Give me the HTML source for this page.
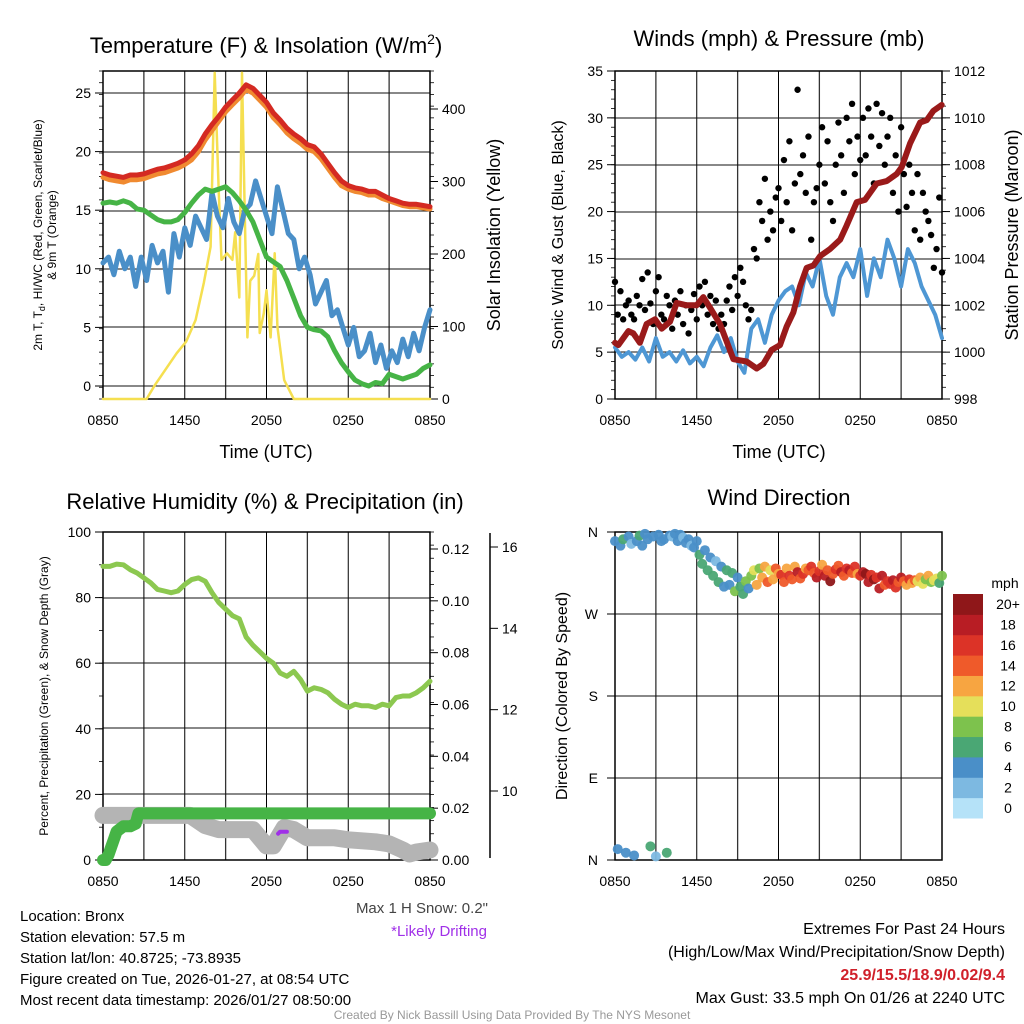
<!DOCTYPE html>
<html><head><meta charset="utf-8"><style>
body{margin:0;background:#fff;}
svg{display:block;font-family:"Liberation Sans",sans-serif;}
</style></head><body>
<svg id="s" width="1024" height="1024" viewBox="0 0 1024 1024" xmlns="http://www.w3.org/2000/svg"></svg>
<script>
// ---------- DATA ----------
const tempRed=[18.2,18.0,17.9,17.8,18.0,18.0,18.1,18.3,18.5,18.6,18.8,19.0,19.3,19.8,20.5,21.5,22.3,23.0,23.8,24.4,25.0,25.7,25.4,24.8,24.2,23.3,22.7,22.0,21.5,21.1,20.6,20.4,19.8,19.0,18.2,17.5,17.1,16.9,16.8,16.6,16.6,16.3,16.0,15.8,15.6,15.5,15.5,15.4,15.3];
const tempOrange=[17.8,17.6,17.5,17.4,17.6,17.6,17.7,17.9,18.1,18.2,18.4,18.6,18.9,19.3,20.0,21.0,21.8,22.6,23.4,24.0,24.6,25.3,25.0,24.4,23.8,22.9,22.3,21.6,21.1,20.7,20.2,20.0,19.4,18.6,17.8,17.1,16.8,16.6,16.5,16.3,16.3,16.0,15.8,15.6,15.4,15.3,15.3,15.2,15.1];
const dewGreen=[15.6,15.7,15.6,15.8,15.6,15.1,15.0,14.6,14.2,14.0,14.0,14.2,14.8,15.6,16.3,16.8,16.6,16.8,17.0,16.5,15.8,15.0,14.0,12.5,11.0,10.6,10.2,9.0,7.5,6.0,5.0,4.8,4.7,4.2,3.0,2.0,1.2,0.5,0.2,0.0,0.3,0.2,1.0,0.8,0.6,0.8,1.0,1.5,1.8];
const heatBlue=[10.5,11,9.5,11.5,10,11,8.5,11,9,12,10.5,11.5,8,13,11,13.5,12,14.5,13.5,12.5,16.5,14.5,13.5,16,14,13,15,15.5,17.5,16,14.5,13,17,15,13,12.5,10,11,9.5,7,8,9,6,6.5,5,3.5,5,2.5,3,4.5,2,3.5,1.5,3,2,4,2.5,4.5,3,5,6.5];
const insolHours=[0,3.2,3.8,5.4,6.1,6.8,7.4,7.9,8.2,8.5,8.7,9.1,9.5,9.7,10.0,10.2,10.4,10.6,10.8,11.1,11.4,11.5,11.8,12.0,12.3,12.6,12.8,13.3,14.0,24];
const insolValues=[0,0,19,63,79,109,160,210,450,284,192,201,192,230,140,450,260,85,163,170,200,91,118,150,85,201,100,26,0,0];
const windSpeed=[5.5,4.5,5.0,4.2,5.5,4.0,6.5,4.5,5.0,4.0,5.2,3.8,4.5,3.5,5.5,6.8,5.0,6.5,4.0,2.8,7.5,8.5,6.0,9.0,10.5,11.5,12.0,10.0,13.5,12.0,15,11,9,13,14.5,13,16,11,15,13,17,15,12,16,14.5,12,10.5,9,6.5];
const gustValues=[12.5,9,11.5,8.5,10,10.5,9,8.5,11,10,12.8,9.5,13.5,10.2,8,11.5,13,9,8.5,11,10,7.5,10.5,9,11.5,8,10,7,9.5,11.2,8.5,12,10,12.5,9,11,8,10.5,7.5,9,8,10.5,12,9.5,13,11,14,12.5,10,8.5,9.5,16,15,21,19,23.5,17,20,18,21.5,22.5,19,25.5,21,27.5,18,23,33,24,26,22,28,17,21,22.5,25,29,23,27.5,21,19,25,29.5,26,22,30,27.5,31.5,24,28,25.5,30,26,31,28,23,31.5,27,30.5,25,28,30,22,26,20,29,24,20.5,25,22,18,24,17,22,20,19,17.5,14,16,21.5,13.5];
const presHours=[0,0.24,0.98,1.35,1.83,2.32,2.94,3.43,4.04,4.53,5.26,5.99,6.48,6.97,7.71,8.69,9.66,10.4,10.89,11.5,12.11,12.6,13.09,13.58,14.07,14.56,15.05,15.78,16.52,17.0,17.74,18.35,18.72,19.21,19.94,20.67,21.04,21.65,22.39,22.88,23.37,23.98];
const presValues=[1000.4,1000.3,1000.9,1000.8,1000.4,1001.2,1001.4,1001.0,1001.3,1002.1,1002.0,1002.0,1002.35,1001.9,1001.2,999.7,999.6,999.3,999.5,1000.1,1000.3,1001.1,1001.7,1002.8,1003.6,1003.7,1004.1,1004.4,1004.8,1005.4,1006.4,1006.5,1006.8,1007.2,1007.3,1007.6,1007.9,1008.9,1009.8,1009.9,1010.3,1010.55];
const rhValues=[89.5,89.5,90.2,90,88.5,87.5,86,84.5,82.5,82,81.5,82,84,85.5,86,85,81.5,78.5,76.5,74.5,73.5,68,65.5,63.5,61.5,60,57,56,57.5,55,51.5,52.5,52,51,49,47.5,46.5,47.5,47,47,46.5,47.5,47,49.5,50,50,51,52.5,54.5];
const precipHours=[0,0.2,0.4,0.6,0.8,1.0,1.5,2.0,2.4,2.6,24];
const precipValues=[0,0,0.002,0.005,0.008,0.011,0.013,0.013,0.014,0.018,0.018];
const snowHours=[0,6.4,7.5,8.5,11,12,12.5,13.3,14,15,17,18,20,21,22,22.5,23,24];
const snowValues=[9.4,9.4,9.15,9.05,9.05,8.65,8.65,9.1,9.05,8.85,8.85,8.8,8.75,8.7,8.55,8.45,8.5,8.55];
const driftHours=[12.85,13.0,13.5];
const driftValues=[8.95,9.0,9.0];
const dirValues=[350,12,345,352,8,355,347,5,350,356,345,358,352,15,355,4,357,350,352,8,356,355,358,350,357,354,348,352,345,343,350,335,325,340,318,332,312,328,305,322,300,318,302,315,295,310,300,292,306,298,312,318,302,320,310,322,305,318,308,320,314,313,305,320,312,308,322,316,309,314,320,318,322,315,310,317,324,312,318,306,314,319,323,316,312,320,318,315,322,314,312,316,314,305,313,308,310,298,312,302,306,303,307,299,305,310,306,302,308,304,307,306,310,303,308,312,305,307,309,304,312];
const dirSpeeds=[4,5,4,6,5,4,3,5,4,6,4,4,5,6,4,3,4,5,4,6,4,3,4,4,5,3,4,4,3,5,4,6,7,5,6,4,6,3,7,5,4,6,5,7,8,4,7,6,8,5,9,11,12,9,13,12,14,11,13,15,12,16,14,13,17,15,12,18,14,16,13,15,17,14,19,16,13,18,15,20,14,17,15,18,14,16,19,15,17,13,16,19,20,18,17,20,16,18,19,15,17,16,18,17,14,19,15,12,16,13,15,11,13,10,9,12,8,10,11,7,9];
const xTickLabels=["0850","1450","2050","0250","0850"];
const speedColors=["#b5e2f8","#7db9e1","#4a8fc8","#4aa774","#7dc24d","#e5df5a","#f7a541","#ef5a2a","#dc3327","#b81d24","#8f1719"];
const speedLabels=["0","2","4","6","8","10","12","14","16","18","20+"];

// ---------- helpers ----------
const NS="http://www.w3.org/2000/svg", S=document.getElementById('s');
function mk(tag,attrs,parent){const e=document.createElementNS(NS,tag);for(const k in attrs)e.setAttribute(k,attrs[k]);(parent||S).appendChild(e);return e;}
function txt(x,y,s,size,anchor,extra){const e=mk('text',Object.assign({x:x,y:y,'font-size':size,'text-anchor':anchor||'middle',fill:'#000'},extra||{}));e.textContent=s;return e;}
function lin(a,b){return v=>a[1]+(v-a[0])*(b[1]-a[1])/(b[0]-a[0]);}
function poly(pts,stroke,w,name){const e=mk('polyline',{points:pts.map(p=>p[0].toFixed(1)+','+p[1].toFixed(1)).join(' '),fill:'none',stroke:stroke,'stroke-width':w,'stroke-linejoin':'round','stroke-linecap':'round'});

return e;}
function grid(L,R,T,B,ys,name){
 const g=mk('g',{});
 
 
 for(let i=0;i<=8;i++){const x=L+(R-L)*i/8;mk('line',{x1:x,x2:x,y1:T,y2:B,stroke:i%2?'#333':'#000','stroke-width':i%2?1.3:1},g);}
 ys.forEach(y=>mk('line',{x1:L,x2:R,y1:y,y2:y,stroke:'#111','stroke-width':1.1},g));
 mk('rect',{x:L,y:T,width:R-L,height:B-T,fill:'none',stroke:'#000','stroke-width':1.5},g);
 for(let i=0;i<5;i++){const x=L+(R-L)*i/4;const t=txt(x,B+26,xTickLabels[i],14);
 
 }
}
function rot(x,y,s,size,name){const t=txt(x,y,s,size,'middle',{transform:`rotate(-90 ${x} ${y})`});
 
 return t;}
function ticksY(x,vals,f,dir,fmt,size,name){vals.forEach(v=>{const y=f(v);mk('line',{x1:x,x2:x+dir*8,y1:y,y2:y,stroke:'#000','stroke-width':1});
 const t=txt(dir<0?x-12:x+12,y+5,fmt(v),size,dir<0?'end':'start');
 
 });}
function minor(x,a,b,n,dir){for(let i=0;i<=n;i++){const y=a+(b-a)*i/n;mk('line',{x1:x,x2:x+dir*4,y1:y,y2:y,stroke:'#000','stroke-width':0.8});}}

// ---------- Panel 1 ----------
{const L=103,R=430,T=71,B=399;
 const X=h=>L+(R-L)*h/24, Y=lin([0,386],[25,93]), Y2=lin([0,399],[400,109]);
 grid(L,R,T,B,[93,152,211,269,327,386],'temperature-grid');
 minor(L,T,B,28,-1); minor(R,T,B,28,1);
 ticksY(L,[0,5,10,15,20,25],Y,-1,v=>v,14,'temp-y-tick');
 ticksY(R,[0,100,200,300,400],Y2,1,v=>v,14,'insolation-y-tick');
 poly(insolHours.map((h,i)=>[X(h),Y2(insolValues[i])]),'#f5df50',2.5,'insolation-line');
 poly(heatBlue.map((v,i)=>[X(i*24/(heatBlue.length-1)),Y(v)]),'#4a8fc8',5,'heat-index-line');
 poly(dewGreen.map((v,i)=>[X(i*0.5),Y(v)]),'#46b446',5,'dewpoint-line');
 poly(tempOrange.map((v,i)=>[X(i*0.5),Y(v)]),'#f08a30',5,'temp-9m-line');
 poly(tempRed.map((v,i)=>[X(i*0.5),Y(v)]),'#d42a22',5,'temp-2m-line');
 const t=txt(266,53,'',22);t.innerHTML='Temperature (F) &amp; Insolation (W/m<tspan dy="-9" font-size="14">2</tspan><tspan dy="9">)</tspan>';
 
 
 const a=txt(266,458,'Time (UTC)',18);
 rot(42,235,'',12,'temp-y-axis-title').innerHTML='2m T, T<tspan dy="3" font-size="9">d</tspan><tspan dy="-3">, HI/WC (Red, Green, Scarlet/Blue)</tspan>';
 rot(56,235,'& 9m T (Orange)',12,'temp-y-axis-title-2');
 rot(500,235,'Solar Insolation (Yellow)',18,'insolation-y-axis-title');
}
// ---------- Panel 2 ----------
{const L=615,R=942,T=71,B=399;
 const X=h=>L+(R-L)*h/24, Y=lin([0,399],[35,71]), Y2=lin([998,399],[1012,71]);
 grid(L,R,T,B,[118,165,212,259,305,352],'wind-grid');
 minor(L,T,B,35,-1); minor(R,T,B,28,1);
 ticksY(L,[0,5,10,15,20,25,30,35],Y,-1,v=>v,14,'wind-y-tick');
 ticksY(R,[998,1000,1002,1004,1006,1008,1010,1012],Y2,1,v=>v,14,'pressure-y-tick');
 poly(windSpeed.map((v,i)=>[X(i*0.5),Y(v)]),'#4e97d4',4,'wind-speed-line');
 gustValues.forEach((v,i)=>{const c=mk('circle',{cx:X(i*0.2),cy:Y(v),r:3.2,fill:'#000'});
  
  });
 poly(presHours.map((h,i)=>[X(h),Y2(presValues[i])]),'#9a1a1a',6,'pressure-line');
 const t=txt(779,46,'Winds (mph) & Pressure (mb)',22);
 const a=txt(779,458,'Time (UTC)',18);
 rot(563,235,'Sonic Wind & Gust (Blue, Black)',16,'wind-y-axis-title');
 rot(1018,235,'Station Pressure (Maroon)',18,'pressure-y-axis-title');
}
// ---------- Panel 3 ----------
{const L=103,R=430,T=532,B=860;
 const X=h=>L+(R-L)*h/24, Y=lin([0,860],[100,532]), Yp=lin([0,860],[0.12,549]), Ys=lin([10,791],[16,547]);
 grid(L,R,T,B,[598,663,728,794],'humidity-grid');
 minor(L,T,B,10,-1); minor(R,T,B,25,1);
 ticksY(L,[0,20,40,60,80,100],Y,-1,v=>v,14,'rh-y-tick');
 ticksY(R,[0,0.02,0.04,0.06,0.08,0.10,0.12],Yp,1,v=>v.toFixed(2),14,'precip-y-tick');
 mk('line',{x1:490,x2:490,y1:533,y2:858,stroke:'#000','stroke-width':1.5});
 ticksY(490,[10,12,14,16],Ys,1,v=>v,14,'snow-y-tick');
 poly(snowHours.map((h,i)=>[X(h),Ys(snowValues[i])]),'#b4b4b4',17,'snow-depth-line');
 poly(driftHours.map((h,i)=>[X(h),Ys(driftValues[i])]),'#a030e8',4,'drifting-line');
 poly(rhValues.map((v,i)=>[X(i*0.5),Y(v)]),'#8cc850',5,'rh-line');
 poly(precipHours.map((h,i)=>[X(h),Yp(precipValues[i])]),'#46b446',12,'precip-line');
 const t=txt(265,509,'Relative Humidity (%) & Precipitation (in)',22);
 rot(48,696,'Percent, Precipitation (Green), & Snow Depth (Gray)',12,'humidity-y-axis-title');
}
// ---------- Panel 4 ----------
{const L=615,R=942,T=532,B=860;
 const X=h=>L+(R-L)*h/24, Y=lin([0,860],[360,532]);
 grid(L,R,T,B,[614,696,778],'direction-grid');
 ['N','E','S','W','N'].forEach((s,i)=>{const y=Y(i*90);mk('line',{x1:L,x2:L-8,y1:y,y2:y,stroke:'#000'});
  const t=txt(598,y+5,s,14,'end');});
 dirValues.forEach((d,i)=>{const c=mk('circle',{cx:X(i*0.2),cy:Y(d),r:5,fill:speedColors[Math.min(10,Math.floor(dirSpeeds[i]/2))],'fill-opacity':0.95});
  
  });
 const t=txt(779,505,'Wind Direction',22);
 rot(567,696,'Direction (Colored By Speed)',16,'direction-y-axis-title');
 const cb=mk('g',{});
 const h=(818-594)/11;
 for(let i=0;i<11;i++){mk('rect',{x:953,y:594+(10-i)*h,width:30,height:h+0.5,fill:speedColors[i]},cb);
  const l=txt(1008,594+(10-i)*h+h/2+5,speedLabels[i],14);}
 const m=txt(1005,588,'mph',14);
}
// ---------- footer text ----------
[['Location: Bronx',921],['Station elevation: 57.5 m',942],['Station lat/lon: 40.8725; -73.8935',963],['Figure created on Tue, 2026-01-27, at 08:54 UTC',984],['Most recent data timestamp: 2026/01/27 08:50:00',1005]].forEach(a=>{const t=txt(20,a[1],a[0],15,'start');});
{let t=txt(488,913,'Max 1 H Snow: 0.2"',15,'end',{fill:'#444'});
 t=txt(487,936,'*Likely Drifting',15,'end',{fill:'#a030e8'});
 t=txt(1005,934,'Extremes For Past 24 Hours',16,'end');
 t=txt(1005,957,'(High/Low/Max Wind/Precipitation/Snow Depth)',16,'end');
 t=txt(1005,980,'25.9/15.5/18.9/0.02/9.4',16,'end',{fill:'#d0202a','font-weight':'bold'});
 t=txt(1005,1003,'Max Gust: 33.5 mph On 01/26 at 2240 UTC',16,'end');
 t=txt(512,1019,'Created By Nick Bassill Using Data Provided By The NYS Mesonet',12,'middle',{fill:'#999'});}
</script>
</body></html>
